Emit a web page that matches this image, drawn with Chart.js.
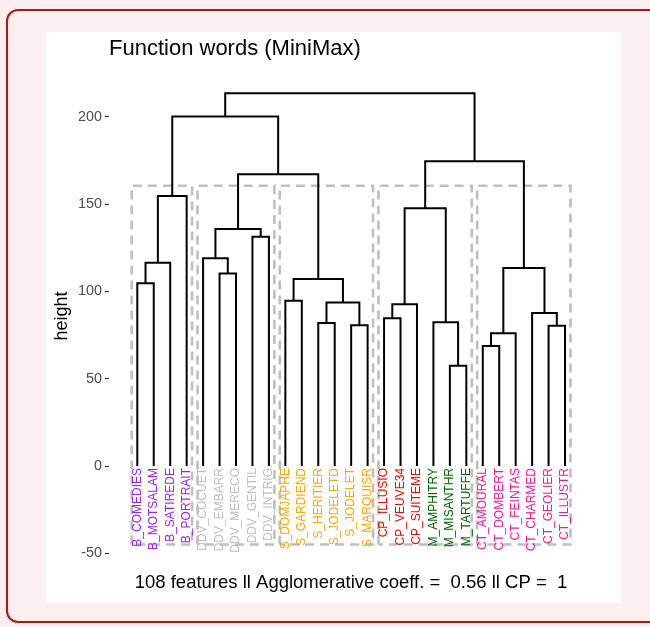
<!DOCTYPE html>
<html>
<head>
<meta charset="utf-8">
<script src="https://cdn.jsdelivr.net/npm/chart.js@4.4.0/dist/chart.umd.min.js"></script>
<style>
  html, body { margin: 0; padding: 0; background: #fbf0ef; }
  body { width: 650px; height: 627px; overflow: hidden; position: relative; }
  .frame { position: absolute; left: 6px; top: 9px; width: 700px; height: 614px;
           border: 2.5px solid #b3170f; border-radius: 12px; box-sizing: border-box; }
  .panel { position: absolute; left: 46px; top: 32px; width: 575px; height: 571px; background: #fff; }
  canvas { display: block; }
</style>
</head>
<body>
<div class="frame"></div>
<div class="panel"><canvas id="dendChart" width="575" height="571"></canvas></div>
<script>
const FONT = '"Liberation Sans", Arial, Helvetica, sans-serif';

// leaves, left to right
const leafLabels = [
  'B_COMEDIES', 'B_MOTSALAM', 'B_SATIREDE', 'B_PORTRAIT',
  'DDV_COCUET', 'DDV_EMBARR', 'DDV_MERECO', 'DDV_GENTIL', 'DDV_INTRIG',
  'S_DOMJAPHE', 'S_GARDIEND', 'S_HERITIER', 'S_JODELETD', 'S_JODELET', 'S_MARQUISR',
  'CP_ILLUSIO', 'CP_VEUVE34', 'CP_SUITEME',
  'M_AMPHITRY', 'M_MISANTHR', 'M_TARTUFFE',
  'CT_AMOURAL', 'CT_DOMBERT', 'CT_FEINTAS', 'CT_CHARMED', 'CT_GEOLIER', 'CT_ILLUSTR'
];

const groupColors = {
  B: '#a020f0', DDV: '#bebebe', S: '#ffa500', CP: '#ff0000', M: '#006400', CT: '#ff1493'
};

// merges, hclust style: -k = leaf k, +k = merge number k
const mergeLeft   = [-1,  1,  2, -6, -5, -8,  5, -10, -12, -14,  9,  8,  7,  3, -16, 15, -20, -19, 16, -22, 20, -26, -25, 21, 19, 14];
const mergeRight  = [-2, -3, -4, -7,  4, -9,  6, -11, -13, -15, 10, 11, 12, 13, -17, -18, -21, 17, 18, -23, -24, -27, 22, 23, 24, 25];
const mergeHeight = [104.7, 116.5, 154.7, 110.3, 119.0, 131.4, 135.8, 94.7, 82.0, 80.6, 93.7, 107.2, 167.2, 200.2,
                     84.6, 92.7, 57.5, 82.3, 147.7, 68.8, 76.0, 80.4, 87.7, 113.5, 174.6, 213.6];

// cut into 5 clusters
const clusterSizes = [4, 5, 6, 6, 6];
const cutHeight = 160.6;
const rectBottom = -45;

const yTicks = [-50, 0, 50, 100, 150, 200];

const titleText = 'Function words (MiniMax)';
const captionText = '108 features ll Agglomerative coeff. =  0.56 ll CP =  1';

// node positions
const mergeX = [];
const nodeX = ref => ref < 0 ? -ref : mergeX[ref - 1];
const nodeY = ref => ref < 0 ? 0 : mergeHeight[ref - 1];
mergeHeight.forEach((h, i) => {
  mergeX.push((nodeX(mergeLeft[i]) + nodeX(mergeRight[i])) / 2);
});

const treeSets = mergeHeight.map((h, i) => {
  const a = mergeLeft[i], b = mergeRight[i];
  return {
    data: [
      {x: nodeX(a), y: nodeY(a)},
      {x: nodeX(a), y: h},
      {x: nodeX(b), y: h},
      {x: nodeX(b), y: nodeY(b)}
    ],
    showLine: true,
    borderColor: '#000',
    borderWidth: 2,
    pointRadius: 0
  };
});

let cum = 0;
const boxSets = clusterSizes.map(n => {
  const x0 = cum + 0.66, x1 = cum + n + 0.33;
  cum += n;
  return {
    data: [
      {x: x0, y: rectBottom}, {x: x0, y: cutHeight}, {x: x1, y: cutHeight},
      {x: x1, y: rectBottom}, {x: x0, y: rectBottom}
    ],
    showLine: true,
    borderColor: '#bfbfbf',
    borderWidth: 2.6,
    borderDash: [9, 6],
    pointRadius: 0
  };
});

const leafLabelPlugin = {
  id: 'leafLabels',
  afterDatasetsDraw(chart) {
    const {ctx, scales: {x, y}} = chart;
    const y0 = y.getPixelForValue(0) + 2;
    ctx.save();
    ctx.font = '12px ' + FONT;
    ctx.textAlign = 'right';
    ctx.textBaseline = 'middle';
    leafLabels.forEach((lab, i) => {
      ctx.save();
      ctx.translate(x.getPixelForValue(i + 1), y0);
      ctx.rotate(-Math.PI / 2);
      ctx.fillStyle = groupColors[lab.split('_')[0]];
      ctx.fillText(lab, 0, 0);
      ctx.restore();
    });
    ctx.restore();
  }
};

new Chart(document.getElementById('dendChart'), {
  type: 'scatter',
  data: { datasets: [...treeSets, ...boxSets] },
  options: {
    responsive: false,
    animation: false,
    layout: { padding: { left: 0, right: 28, top: 0, bottom: 0 } },
    plugins: {
      legend: { display: false },
      tooltip: { enabled: false },
      title: {
        display: true, text: titleText, align: 'start', fullSize: false,
        color: '#000', font: { family: FONT, size: 22, weight: 'normal' },
        padding: { top: 4, bottom: 7.6 }
      },
      subtitle: {
        display: true, text: captionText, position: 'bottom', fullSize: false,
        color: '#000', font: { family: FONT, size: 18.5, weight: 'normal' },
        padding: { top: 9.9, bottom: 8.9 }
      }
    },
    scales: {
      x: { type: 'linear', min: -0.72, max: 28.7, display: false },
      y: {
        type: 'linear', min: -55, max: 226.9,
        afterBuildTicks: s => { s.ticks = yTicks.map(v => ({ value: v })); },
        afterFit: s => { s.width = 63; },
        border: { display: false },
        grid: { drawOnChartArea: false, drawTicks: true, tickLength: 4, color: '#333333', lineWidth: 1 },
        ticks: { color: '#4d4d4d', padding: 3, font: { family: FONT, size: 14.4 } },
        title: {
          display: true, text: 'height', color: '#000',
          font: { family: FONT, size: 18 }, padding: { top: 5, bottom: 0 }
        }
      }
    }
  },
  plugins: [leafLabelPlugin]
});
</script>
</body>
</html>
